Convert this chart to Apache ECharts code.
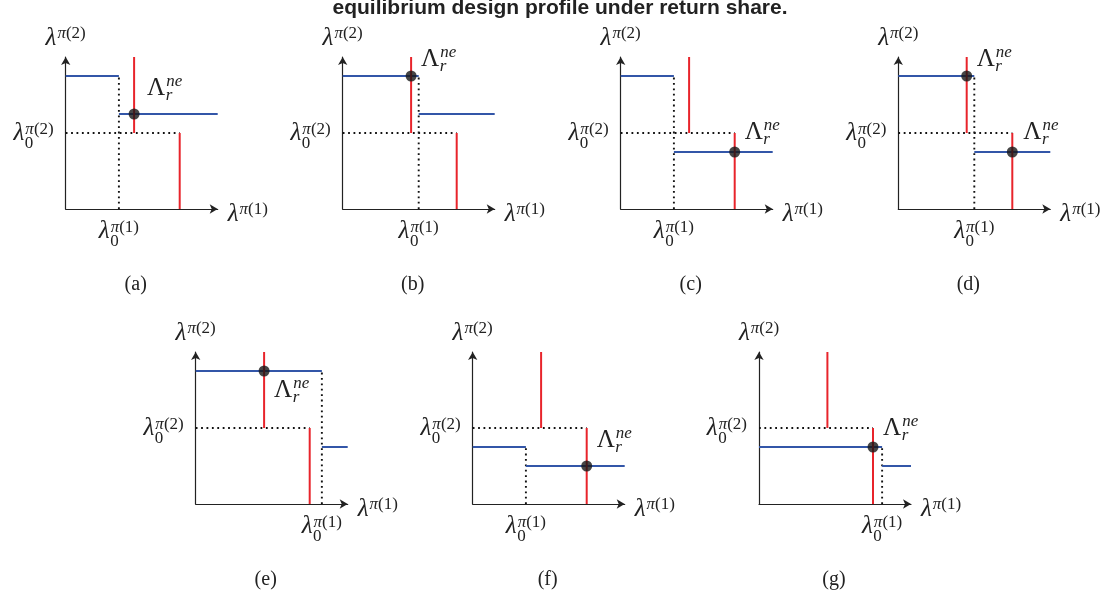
<!DOCTYPE html>
<html><head><meta charset="utf-8">
<script src="https://cdn.jsdelivr.net/npm/echarts@6/dist/echarts.min.js"></script>
<style>html,body{margin:0;padding:0;background:#fff}#c{width:1120px;height:596px}</style>
</head><body><div id="c"></div>
<script>
// ---------- DATA ----------
const chartTitle = 'equilibrium design profile under return share.';
const panelTags = ['(a)', '(b)', '(c)', '(d)', '(e)', '(f)', '(g)'];
// thresholds on each panel (axes run 0..100)
const lambda01 = [35, 50, 35, 50, 83, 35, 81];   // λ0^{π(1)} position on x axis
const lambda02 = [50, 50, 50, 50, 50, 50, 50];   // λ0^{π(2)} position on y axis
// blue (best response of player 2) segments [x1, y1, x2, y2]
const blueLines = [
  [[0, 87.5, 35, 87.5], [35, 62.5, 100, 62.5]],
  [[0, 87.5, 50, 87.5], [50, 62.5, 100, 62.5]],
  [[0, 87.5, 35, 87.5], [35, 37.5, 100, 37.5]],
  [[0, 87.5, 50, 87.5], [50, 37.5, 100, 37.5]],
  [[0, 87.5, 83, 87.5], [83, 37.5, 100, 37.5]],
  [[0, 37.5, 35, 37.5], [35, 25, 100, 25]],
  [[0, 37.5, 81, 37.5], [81, 25, 100, 25]]
];
// red (best response of player 1) segments [x1, y1, x2, y2]
const redLines = [
  [[45, 50, 45, 100], [75, 0, 75, 50]],
  [[45, 50, 45, 100], [75, 0, 75, 50]],
  [[45, 50, 45, 100], [75, 0, 75, 50]],
  [[45, 50, 45, 100], [75, 0, 75, 50]],
  [[45, 50, 45, 100], [75, 0, 75, 50]],
  [[45, 50, 45, 100], [75, 0, 75, 50]],
  [[45, 50, 45, 100], [75, 0, 75, 50]]
];
// dotted guide segments [x1, y1, x2, y2]
const dottedLines = [
  [[35, 0, 35, 87.5], [0, 50, 75, 50]],
  [[50, 0, 50, 87.5], [0, 50, 75, 50]],
  [[35, 0, 35, 87.5], [0, 50, 75, 50]],
  [[50, 0, 50, 87.5], [0, 50, 75, 50]],
  [[83, 0, 83, 87.5], [0, 50, 75, 50]],
  [[35, 0, 35, 37.5], [0, 50, 75, 50]],
  [[81, 0, 81, 37.5], [0, 50, 75, 50]]
];
// Nash equilibria Λ_r^{ne}
const equilibria = [
  [[45, 62.5]],
  [[45, 87.5]],
  [[75, 37.5]],
  [[45, 87.5], [75, 37.5]],
  [[45, 87.5]],
  [[75, 25]],
  [[75, 37.5]]
];

// ---------- LAYOUT (pixels) ----------
const gridPos = [
  [65.7, 57], [342.7, 57], [620.7, 57], [898.3, 57],
  [195.7, 352], [472.7, 352], [759, 352]
];
const GW = 152, GH = 152;
// label offset of each equilibrium label relative to its point [dx (left edge), dy (center)]
const eqLabelOffsets = [
  [[13, -26]],
  [[10, -17]],
  [[10, -20]],
  [[10, -17], [11, -20]],
  [[10, 19]],
  [[10, -26]],
  [[10, -19]]
];
const tagOffsets = [70, 70, 70, 70, 70, 75, 75];

const BLUE = '#3356a8', RED = '#e8242b', INK = '#222';
const MF = '"Liberation Serif", "DejaVu Serif", serif';
const BASE = 25, SCRIPT = 17;

const mctx = document.createElement('canvas').getContext('2d');
function measure(t, size, italic) {
  mctx.font = (italic ? 'italic ' : '') + size + 'px ' + MF;
  return mctx.measureText(t).width;
}
function runWidth(runs, size) {
  return runs.reduce((s, r) => s + measure(r[0], size, r[1]), 0);
}
function runEls(runs, x, y, size) {
  const els = [];
  let cx = x;
  runs.forEach(r => {
    els.push({
      type: 'text', x: cx, y: y, silent: true,
      style: { text: r[0], fill: INK, fontSize: size, fontFamily: MF,
        fontStyle: r[1] ? 'italic' : 'normal', textAlign: 'left', textVerticalAlign: 'middle' }
    });
    cx += measure(r[0], size, r[1]);
  });
  return els;
}
// math label: base runs + superscript runs + subscript runs
function mathLabel(px, py, base, sup, sub, align, supDy, subDy) {
  const bw = runWidth(base, BASE);
  const sw = Math.max(sup ? runWidth(sup, SCRIPT) : 0, sub ? runWidth(sub, SCRIPT) : 0);
  const total = bw + 1 + sw;
  let sx = px;
  if (align === 'center') sx = px - total / 2;
  else if (align === 'right') sx = px - total;
  let els = runEls(base, sx, py, BASE);
  if (sup) els = els.concat(runEls(sup, sx + bw + 1, py + supDy, SCRIPT));
  if (sub) els = els.concat(runEls(sub, sx + bw + 0.5, py + subDy, SCRIPT));
  return els;
}
const LAM = [['λ', true]];
const SUP1 = [['π', true], ['(1)', false]];
const SUP2 = [['π', true], ['(2)', false]];
const ZERO = [['0', false]];
const BIGL = [['Λ', false]];
const NE = [['ne', true]];
const R = [['r', true]];

const grid = [], xAxis = [], yAxis = [], series = [];
const axisLineStyle = {
  show: true, onZero: false, symbol: ['none', 'arrow'], symbolSize: [7, 8],
  lineStyle: { color: INK, width: 1.2 }
};

function segSeries(i, data, color, dash, width) {
  return {
    type: 'custom', xAxisIndex: i, yAxisIndex: i, data: data, z: dash ? 2 : 3,
    encode: { x: [0, 2], y: [1, 3] }, clip: false, silent: true,
    renderItem: function (params, api) {
      const p1 = api.coord([api.value(0), api.value(1)]);
      const p2 = api.coord([api.value(2), api.value(3)]);
      return {
        type: 'line',
        shape: { x1: p1[0], y1: p1[1], x2: p2[0], y2: p2[1] },
        style: { stroke: color, lineWidth: width, lineDash: dash || null, lineCap: 'butt' }
      };
    }
  };
}

for (let i = 0; i < 7; i++) {
  grid.push({ left: gridPos[i][0], top: gridPos[i][1], width: GW, height: GH, containLabel: false });
  xAxis.push({ type: 'value', gridIndex: i, min: 0, max: 100, axisLine: axisLineStyle,
    axisTick: { show: false }, axisLabel: { show: false }, splitLine: { show: false } });
  yAxis.push({ type: 'value', gridIndex: i, min: 0, max: 100, axisLine: axisLineStyle,
    axisTick: { show: false }, axisLabel: { show: false }, splitLine: { show: false } });

  series.push(segSeries(i, dottedLines[i], '#111', [1.8, 3.6], 1.9));
  series.push(segSeries(i, blueLines[i], BLUE, null, 2));
  series.push(segSeries(i, redLines[i], RED, null, 2));
  series.push({
    type: 'scatter', xAxisIndex: i, yAxisIndex: i, data: equilibria[i], z: 5,
    symbol: 'circle', symbolSize: 11, itemStyle: { color: '#161616' }, silent: true
  });

  // text annotations, anchored through the axes
  const idx = i;
  series.push({
    type: 'custom', xAxisIndex: i, yAxisIndex: i, silent: true, clip: false, z: 6,
    data: [[0, 0]],
    renderItem: function (params, api) {
      const o = api.coord([0, 0]);
      const top = api.coord([0, 100]);
      const right = api.coord([100, 0]);
      const l1 = api.coord([lambda01[idx], 0]);
      const l2 = api.coord([0, lambda02[idx]]);
      let els = [];
      els = els.concat(mathLabel(top[0], top[1] - 19, LAM, SUP2, null, 'center', -4, 0));
      els = els.concat(mathLabel(right[0] + 10, right[1] + 5, LAM, SUP1, null, 'left', -4, 0));
      els = els.concat(mathLabel(l2[0] - 12, l2[1], LAM, SUP2, ZERO, 'right', -3, 11));
      els = els.concat(mathLabel(l1[0], l1[1] + 22, LAM, SUP1, ZERO, 'center', -3, 11));
      equilibria[idx].forEach((pt, k) => {
        const p = api.coord(pt);
        const off = eqLabelOffsets[idx][k];
        els = els.concat(mathLabel(p[0] + off[0], p[1] + off[1], BIGL, NE, R, 'left', -6, 8));
      });
      els.push({
        type: 'text', x: o[0] + tagOffsets[idx], y: o[1] + 76, silent: true,
        style: { text: panelTags[idx], fill: INK, fontSize: 20, fontFamily: MF,
          textAlign: 'center', textVerticalAlign: 'middle' }
      });
      return { type: 'group', children: els };
    }
  });
}

const chart = echarts.init(document.getElementById('c'), null, { renderer: 'canvas' });
chart.setOption({
  animation: false,
  backgroundColor: '#fff',
  title: {
    text: chartTitle, left: 'center', top: -2, padding: 0,
    textStyle: { fontSize: 21, fontWeight: 'bold', color: '#222', fontFamily: '"Liberation Sans", Arial, sans-serif' }
  },
  grid: grid, xAxis: xAxis, yAxis: yAxis, series: series
});
</script></body></html>
